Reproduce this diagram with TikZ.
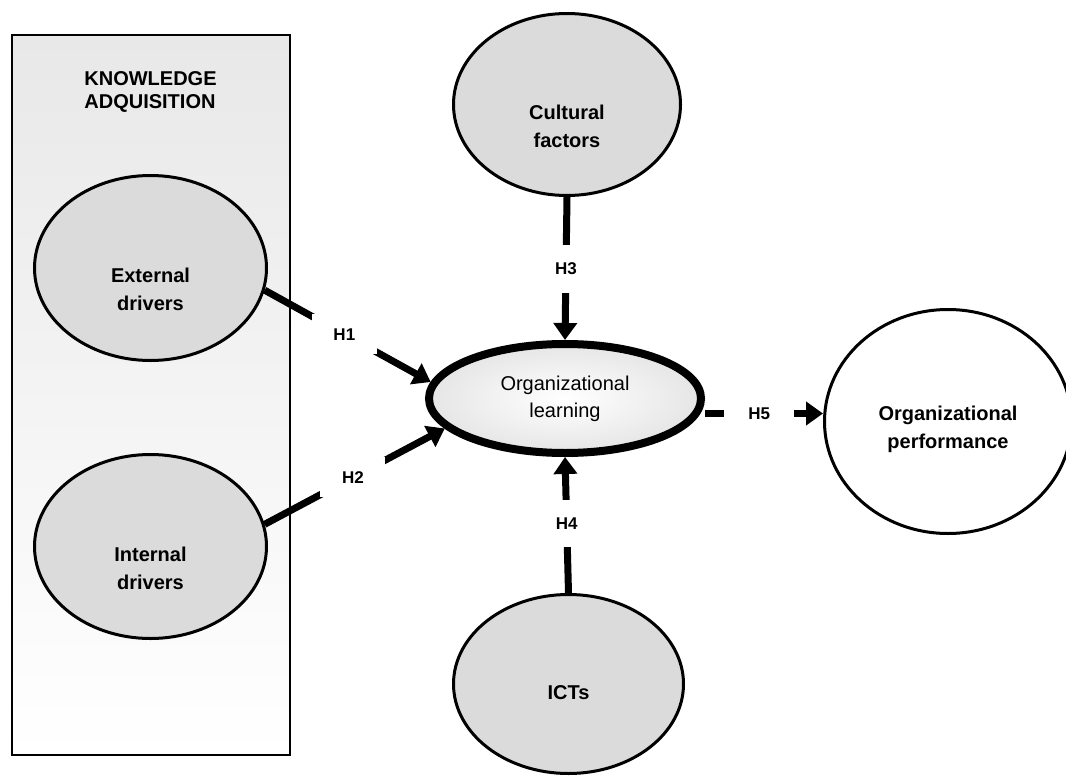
\documentclass[tikz,border=0pt]{standalone}
\usepackage{fontspec}
\setmainfont{Liberation Sans}
\usetikzlibrary{arrows.meta,shapes.geometric}

\begin{document}
\begin{tikzpicture}[x=1pt,y=-1pt,
    construct/.style={ellipse,draw,line width=3pt,fill=black!14,inner sep=0pt},
    caption/.style={font=\bfseries\fontsize{20}{28}\selectfont,align=center,inner sep=0pt},
    link/.style={line width=7pt,-{Triangle[length=17pt,width=23pt]}},
    hyp/.style={fill=white,inner sep=0pt,font=\bfseries\fontsize{17}{20}\selectfont}]

  \useasboundingbox (0,0) rectangle (1066,776);

  % knowledge adquisition block
  \draw[line width=2pt,top color=black!9,bottom color=white] (12,35) rectangle (290,755);
  \node[font=\bfseries\fontsize{20}{23}\selectfont,align=left,inner sep=0pt] (ka) at (150.5,91.5) {KNOWLEDGE\\ADQUISITION};

  % constructs
  \node[construct,minimum width=232pt,minimum height=185pt] (ext) at (150.5,268) {};
  \node[construct,minimum width=232pt,minimum height=184pt] (int) at (150.5,546.5) {};
  \node[construct,minimum width=227pt,minimum height=182pt] (cult) at (567,104.5) {};
  \node[construct,minimum width=230pt,minimum height=179pt] (icts) at (568.5,684) {};
  \node[construct,fill=white,minimum width=247pt,minimum height=224pt] (perf) at (948,421.5) {};
  \node[ellipse,draw,line width=8pt,inner sep=0pt,minimum width=272pt,minimum height=109pt,
        inner color=white,outer color=black!10,
        font=\fontsize{20}{27}\selectfont,align=center] (ol) at (565,398.5) {Organizational\\learning};

  \node[caption] (ext-t) at ([yshift=-21pt]ext.center) {External\\drivers};
  \node[caption] (int-t) at ([yshift=-22pt]int.center) {Internal\\drivers};
  \node[caption] (cult-t) at ([yshift=-22pt]cult.center) {Cultural\\factors};
  \node[caption] (icts-t) at ([yshift=-9pt]icts.center) {ICTs};
  \node[caption] (perf-t) at ([yshift=-7.5pt]perf.center) {Organizational\\performance};

  % hypotheses
  \coordinate (h5s) at ([yshift=-15pt]ol.east);
  \draw[link] (ext.-11) -- node[hyp,pos=0.48,minimum width=65pt,minimum height=40pt] {H1} (ol.173);
  \draw[link] (int.11) -- node[hyp,pos=0.49,minimum width=65pt,minimum height=40pt] {H2} (ol.194);
  \draw[link] (cult.south) -- node[hyp,pos=0.5,minimum width=26pt,minimum height=48pt] {H3} (ol.north);
  \draw[link] (icts.north) -- node[hyp,pos=0.51,minimum width=26pt,minimum height=47pt] {H4} (ol.south);
  \draw[link] (h5s) -- node[hyp,pos=0.46,minimum width=70pt,minimum height=22pt] {H5} (h5s -| perf.west);

\end{tikzpicture}
\end{document}
